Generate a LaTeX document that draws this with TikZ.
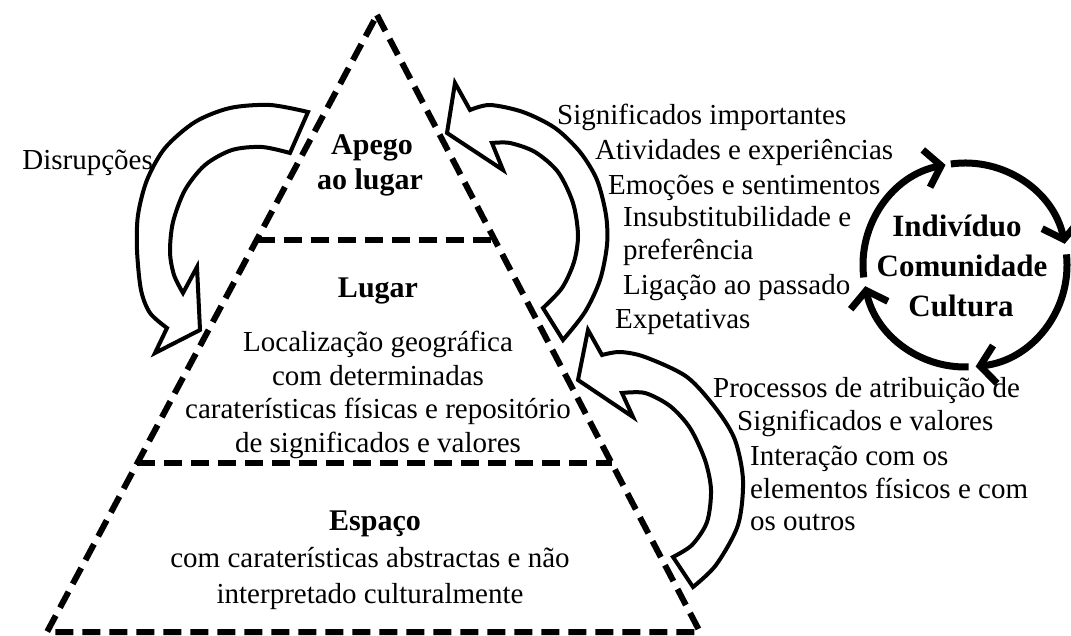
\documentclass[tikz,border=0pt]{standalone}
\usepackage{fontspec}
\setmainfont{Liberation Serif}
\usetikzlibrary{arrows.meta,calc}
\begin{document}
\begin{tikzpicture}[x=1pt,y=-1pt,
  tri/.style={line width=6pt, dash pattern=on 18pt off 9pt, line join=miter},
  blk/.style={draw=black, fill=white, line width=4pt, line join=miter, miter limit=10},
  cyc/.style={line width=7pt, -{Straight Barb[length=15pt,width=38pt]}},
  txt/.style={inner sep=0pt, font=\fontsize{29}{34}\selectfont},
  ttl/.style={inner sep=0pt, font=\fontsize{30}{35}\selectfont\bfseries},
  cyt/.style={inner sep=0pt, font=\fontsize{31}{40}\selectfont\bfseries},
]
\useasboundingbox (0,0) rectangle (1071,636);

% curved block arrows
\draw[blk] (308,112) -- (290,153)
  -- plot[smooth] coordinates {(290,153) (262,147) (232,150) (205,165) (185,190) (173,222) (170,252) (174,275) (183,293)}
  -- (197,267) -- (200,330) -- (155,353) -- (167,328)
  -- plot[smooth] coordinates {(167,328) (150,313) (141,290) (137,250) (138,215) (147,180) (165,148) (195,122) (230,108) (270,105) (308,112)}
  -- cycle;

\draw[blk] (563,340) -- (543,308)
  -- plot[smooth] coordinates {(543,308) (562,288) (574,262) (578,235) (573,203) (558,172) (535,152) (510,143) (492,143)}
  -- (503,170) -- (447,133) -- (455,83) -- (470,110)
  -- plot[smooth] coordinates {(470,110) (490,105) (523,112) (555,128) (580,152) (597,180) (606,215) (607,245) (600,280) (585,312) (563,340)}
  -- cycle;

\draw[blk] (693,587) -- (673,557)
  -- plot[smooth] coordinates {(673,557) (692,545) (707,522) (711,490) (705,460) (690,428) (670,406) (645,393) (622,393)}
  -- (633,417) -- (578,380) -- (588,330) -- (602,355)
  -- plot[smooth] coordinates {(602,355) (620,352) (645,357) (687,377) (717,410) (735,440) (743,480) (738,525) (716,565) (693,587)}
  -- cycle;

% pyramid
\coordinate (A) at (377,15);
\coordinate (BL) at (47,632);
\coordinate (BR) at (700,632);
\draw[tri] (A) -- (BR) -- (BL) -- cycle;
\draw[tri] ($(A)!0.3647!(BL)$) -- ($(A)!0.3647!(BR)$);
\draw[tri] ($(A)!0.7261!(BL)$) -- ($(A)!0.7261!(BR)$);

% pyramid texts
\node[ttl, anchor=base] (apego1) at (372,155) {Apego};
\node[ttl, anchor=base] (apego2) at (370,190) {ao lugar};
\node[ttl, anchor=base] (lugar) at (378,298) {Lugar};
\node[txt, anchor=base] (lug1) at (378,352) {Localização geográfica};
\node[txt, anchor=base] (lug2) at (378,385) {com determinadas};
\node[txt, anchor=base] (lug3) at (378,418) {caraterísticas físicas e repositório};
\node[txt, anchor=base] (lug4) at (378,452) {de significados e valores};
\node[ttl, anchor=base] (espaco) at (375,530) {Espaço};
\node[txt, anchor=base] (esp1) at (370,567) {com caraterísticas abstractas e não};
\node[txt, anchor=base] (esp2) at (370,603) {interpretado culturalmente};

\node[txt, anchor=base east] (disr) at (153,170) {Disrupções};

% right lists
\node[txt, anchor=base west] (r1) at (557,125) {Significados importantes};
\node[txt, anchor=base west] (r2) at (595,160) {Atividades e experiências};
\node[txt, anchor=base west] (r3) at (608,195) {Emoções e sentimentos};
\node[txt, anchor=base west] (r4) at (623,227) {Insubstitubilidade e};
\node[txt, anchor=base west] (r5) at (623,260) {preferência};
\node[txt, anchor=base west] (r6) at (623,295) {Ligação ao passado};
\node[txt, anchor=base west] (r7) at (615,328) {Expetativas};

\node[txt, anchor=base west] (p1) at (713,397) {Processos de atribuição de};
\node[txt, anchor=base west] (p2) at (737,430) {Significados e valores};
\node[txt, anchor=base west] (p3) at (750,465) {Interação com os};
\node[txt, anchor=base west] (p4) at (750,498) {elementos físicos e com};
\node[txt, anchor=base west] (p5) at (750,530) {os outros};

% cycle
\coordinate (c) at (965,265);
\node[cyt, anchor=base] (ind) at (957,237) {Indivíduo};
\node[cyt, anchor=base] (com) at (962,277) {Comunidade};
\node[cyt, anchor=base] (cul) at (961,317) {Cultura};
\draw[cyc] (c) ++(-187:102) arc[start angle=-187, end angle=-101, radius=102];
\draw[cyc] (c) ++(-98:102) arc[start angle=-98, end angle=-12, radius=102];
\draw[cyc] (c) ++(-6:102) arc[start angle=-6, end angle=84, radius=102];
\draw[cyc] (c) ++(88:102) arc[start angle=88, end angle=168, radius=102];
\end{tikzpicture}
\end{document}
